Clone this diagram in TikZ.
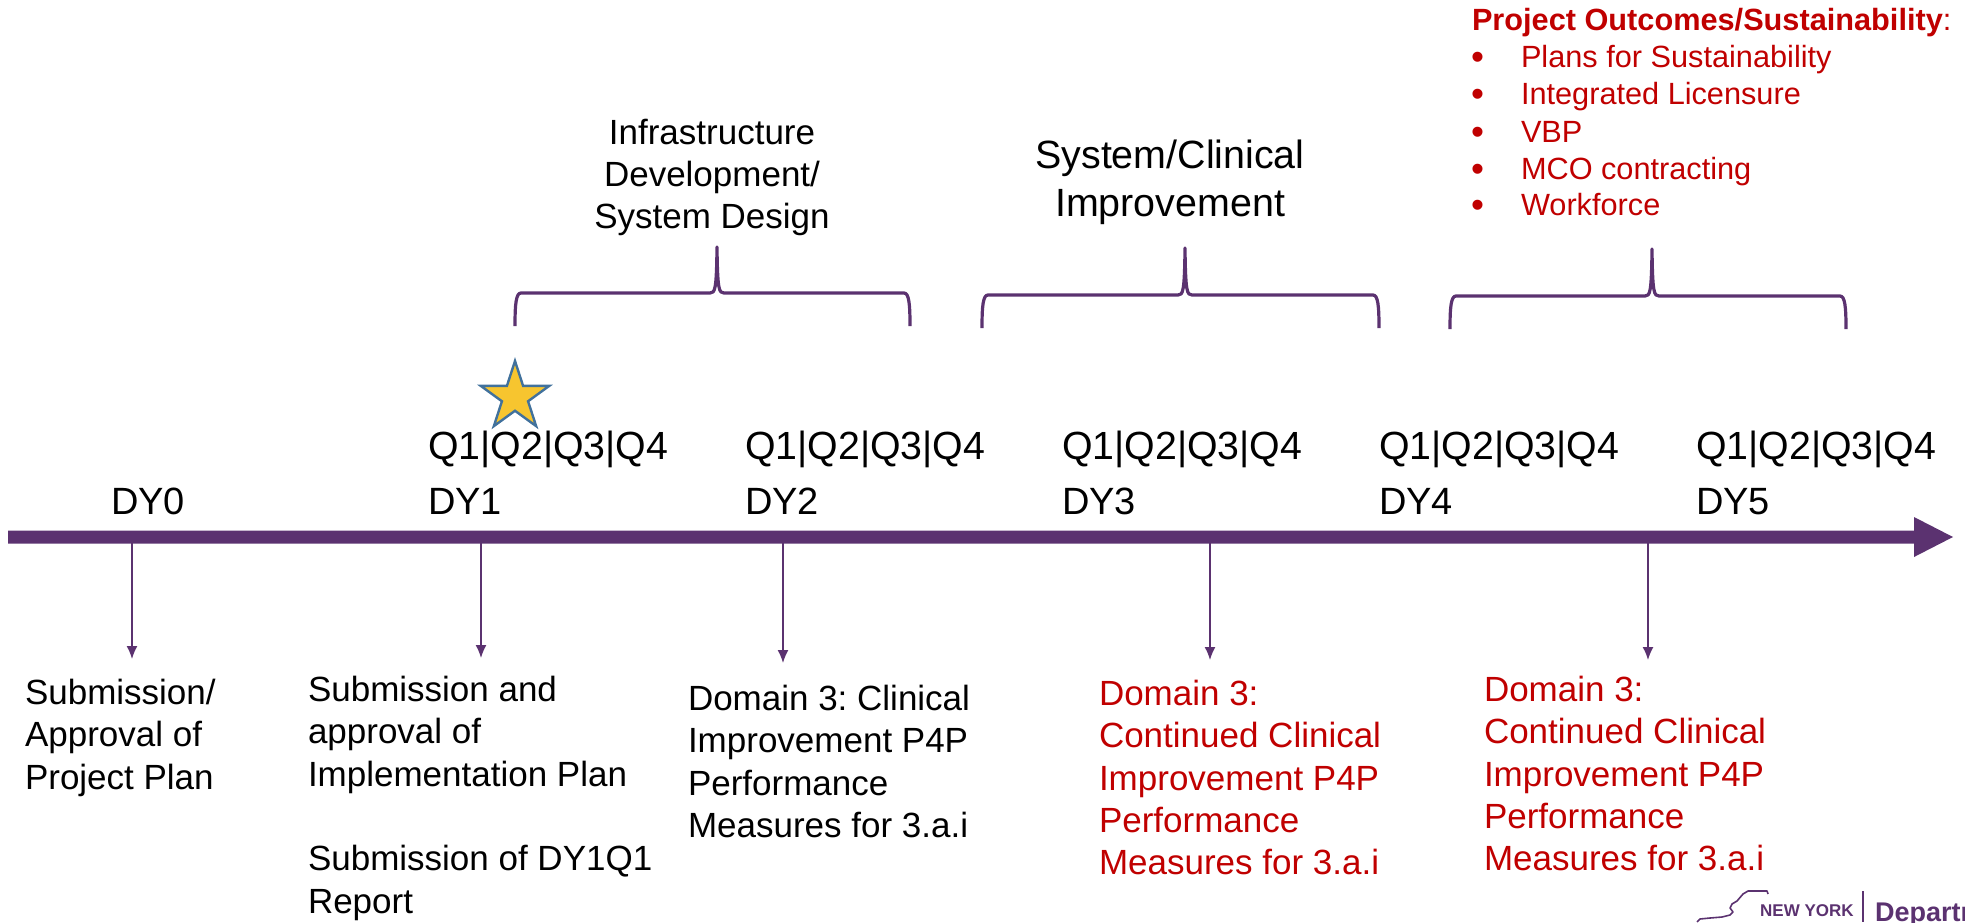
\documentclass[tikz,border=0pt]{standalone}
\usepackage{fontspec}
\setmainfont{Liberation Sans}
\frenchspacing
\definecolor{axispurple}{HTML}{5B3270}
\definecolor{redtext}{HTML}{C00000}
\definecolor{starfill}{HTML}{F7C52F}
\definecolor{starline}{HTML}{41719C}
\usetikzlibrary{shapes.geometric,arrows.meta}
\newcommand{\fs}[2]{\fontsize{#1}{#2}\selectfont}
\tikzset{
  lbl/.style={inner sep=0pt,outer sep=0pt,anchor=base west,font=\fs{39.3}{46}},
  dylbl/.style={inner sep=0pt,outer sep=0pt,anchor=base west,font=\fs{38}{46}},
  body/.style={inner sep=0pt,outer sep=0pt,anchor=north west,align=left,font=\fs{35}{42.4}},
  redbody/.style={inner sep=0pt,outer sep=0pt,anchor=north west,align=left,text=redtext,font=\fs{35}{42.4}},
  drop/.style={draw=axispurple,line width=1.5pt,-{Latex[length=13pt,width=11pt]}},
  bracket/.style={draw=axispurple,line width=3.2pt,line join=round},
  toplist/.style={inner sep=0pt,outer sep=0pt,anchor=base west,text=redtext,font=\fs{30.7}{36}},
  topbullet/.style={inner sep=0pt,outer sep=0pt,anchor=base west,text=redtext,font=\fs{37}{36}},
}
\newcommand{\bracketat}[5]{% left, mid, right, base y, tip rise
  \draw[bracket] (#1,#4) .. controls (#1,#4-22) and (#1+1,#4-33) .. (#1+6,#4-33)
    -- (#2-7,#4-33) .. controls (#2-2,#4-33) and (#2-0.5,#4-36) .. (#2,#4-#5)
    .. controls (#2+0.5,#4-36) and (#2+2,#4-33) .. (#2+7,#4-33)
    -- (#3-6,#4-33) .. controls (#3-1,#4-33) and (#3,#4-22) .. (#3,#4);}
\begin{document}
\begin{tikzpicture}[x=1pt,y=-1pt]
\useasboundingbox (0,0) rectangle (1965,922);
\clip (0,0) rectangle (1965,922);
% axis
\fill[axispurple] (8,530.5) -- (1914,530.5) -- (1914,517) -- (1953,537) -- (1914,557) -- (1914,543.5) -- (8,543.5) -- cycle;
\coordinate (a0) at (132,543);
\coordinate (a1) at (481,543);
\coordinate (a2) at (783,543);
\coordinate (a3) at (1210,543);
\coordinate (a4) at (1648,543);
\coordinate (e0) at (132,659);
\coordinate (e1) at (481,658);
\coordinate (e2) at (783,663);
\coordinate (e3) at (1210,660);
\coordinate (e4) at (1648,660);
\draw[drop] (a0) -- (e0);
\draw[drop] (a1) -- (e1);
\draw[drop] (a2) -- (e2);
\draw[drop] (a3) -- (e3);
\draw[drop] (a4) -- (e4);
% year labels
\node[dylbl] (dy0) at (111,514) {DY0};
\node[dylbl] (dy1) at (428,514) {DY1};
\node[dylbl] (dy2) at (745,514) {DY2};
\node[dylbl] (dy3) at (1062,514) {DY3};
\node[dylbl] (dy4) at (1379,514) {DY4};
\node[dylbl] (dy5) at (1696,514) {DY5};
\node[lbl] (q1) at (428,459) {Q1|Q2|Q3|Q4};
\node[lbl] (q2) at (745,459) {Q1|Q2|Q3|Q4};
\node[lbl] (q3) at (1062,459) {Q1|Q2|Q3|Q4};
\node[lbl] (q4) at (1379,459) {Q1|Q2|Q3|Q4};
\node[lbl] (q5) at (1696,459) {Q1|Q2|Q3|Q4};
% star
\node[star,star points=5,star point ratio=2.618,minimum size=72pt,inner sep=0pt,draw=starline,fill=starfill,line width=2.4pt] (star) at (515,397) {};
% brackets
\bracketat{515}{717}{910}{326}{79}
\bracketat{982}{1185}{1379}{328}{80}
\bracketat{1450}{1652}{1846}{329}{80}
% headings
\node[inner sep=0pt,align=center,font=\fs{35}{42}] (h1) at (712,177) {Infrastructure\\Development/\\System Design};
\node[inner sep=0pt,align=center,font=\fs{39.4}{48}] (h2) at (1170,182.5) {System/Clinical\\Improvement};
% top list
\node[toplist] (tl0) at (1472,30) {\textbf{Project Outcomes/Sustainability}:};
\foreach \n/\y/\t in {1/67/Plans for Sustainability,2/104/Integrated Licensure,3/142/VBP,4/179/MCO contracting,5/215/Workforce}{
  \node[topbullet] (b\n) at (1471,\y+2) {•};
  \node[toplist] (t\n) at (1521,\y) {\t};
}
% bottom texts
\node[body] (s0) at (25,679) {Submission/\\Approval of\\Project Plan};
\node[body] (s1) at (308,676) {Submission and\\approval of\\Implementation Plan\\[42.4pt]Submission of DY1Q1\\Report};
\node[body] (s2) at (688,685) {Domain 3: Clinical\\Improvement P4P\\Performance\\Measures for 3.a.i};
\node[redbody] (s3) at (1099,680) {Domain 3:\\Continued Clinical\\Improvement P4P\\Performance\\Measures for 3.a.i};
\node[redbody] (s4) at (1484,676) {Domain 3:\\Continued Clinical\\Improvement P4P\\Performance\\Measures for 3.a.i};
% logo
\draw[axispurple,line width=1.6pt,line join=round] (1697,922) -- (1700,919) -- (1710,918) -- (1722,917) -- (1730,915) -- (1733,912) -- (1730,908) -- (1732,904) -- (1737,901) -- (1743,894) -- (1748,891) -- (1767,891) -- (1768,894);
\node[inner sep=0pt,anchor=base west,text=axispurple,font=\fs{17}{20}\bfseries] (ny) at (1760,916) {NEW YORK};
\draw[axispurple,line width=1.2pt] (1863,891) -- (1863,922);
\node[inner sep=0pt,anchor=base west,text=axispurple,font=\fs{27}{30}\bfseries] (dep) at (1875,921) {Department};
\end{tikzpicture}
\end{document}
